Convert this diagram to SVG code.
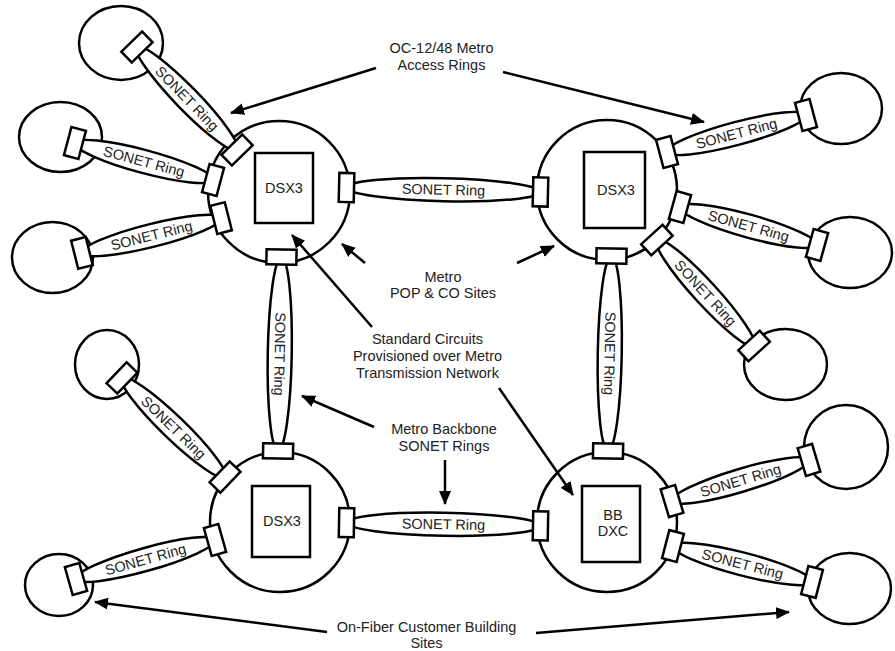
<svg xmlns="http://www.w3.org/2000/svg" width="895" height="651" viewBox="0 0 895 651">
<defs>
<style>
.site{fill:#fff;stroke:#000;stroke-width:2.5}
.box{fill:#fff;stroke:#000;stroke-width:2.5}
.ring ellipse{fill:#fff;stroke:#000;stroke-width:2.5}
.ring rect{fill:#fff;stroke:#000;stroke-width:2.5}
.t{font-family:"Liberation Sans",Arial,sans-serif;font-size:14.5px;fill:#222;text-anchor:middle}
.arr{stroke:#000;stroke-width:2.5;fill:none;marker-end:url(#ah)}
</style>
<marker id="ah" markerUnits="userSpaceOnUse" markerWidth="15" markerHeight="12" refX="13" refY="6" orient="auto">
<path d="M0,0 L14,6 L0,12 z" fill="#000"/>
</marker>
</defs>
<rect width="895" height="651" fill="#fff"/>

<g id="customer-sites">
<ellipse id="c-tl1" class="site" cx="121" cy="43" rx="42" ry="37"/>
<ellipse id="c-tl2" class="site" cx="60.5" cy="137" rx="41.5" ry="35"/>
<ellipse id="c-tl3" class="site" cx="52.5" cy="257.5" rx="40.5" ry="35.5"/>
<ellipse id="c-tr1" class="site" cx="841" cy="108.5" rx="41" ry="35.5"/>
<ellipse id="c-tr2" class="site" cx="850" cy="252.5" rx="42" ry="35.5"/>
<ellipse id="c-tr3" class="site" cx="785.5" cy="364.5" rx="41.5" ry="35.5"/>
<ellipse id="c-bl1" class="site" cx="107" cy="364.5" rx="32" ry="34.5"/>
<ellipse id="c-bl2" class="site" cx="59" cy="585" rx="34" ry="31"/>
<ellipse id="c-br1" class="site" cx="846" cy="447" rx="42" ry="42"/>
<ellipse id="c-br2" class="site" cx="849.5" cy="588.5" rx="41.5" ry="35.5"/>
</g>

<g id="site-tl">
<circle class="site" cx="279" cy="192" r="71"/>
<rect class="box" x="255" y="153" width="58" height="70"/>
<text class="t" x="284" y="193">DSX3</text>
</g>
<g id="site-tr">
<circle class="site" cx="607" cy="190" r="70"/>
<rect class="box" x="584" y="152" width="61" height="76"/>
<text class="t" x="616" y="195">DSX3</text>
</g>
<g id="site-bl">
<circle class="site" cx="280" cy="522" r="70"/>
<rect class="box" x="252" y="486" width="58" height="71"/>
<text class="t" x="282" y="526">DSX3</text>
</g>
<g id="site-br">
<circle class="site" cx="607" cy="522" r="70"/>
<rect class="box" x="582" y="486" width="58" height="76"/>
<text class="t" x="613" y="520">BB</text>
<text class="t" x="613" y="536">DXC</text>
</g>

<g id="connectors">
<g id="rings">
<g class="ring" transform="translate(187,98.5) rotate(45.8)"><ellipse rx="71.8" ry="11.5"/><rect x="-79.3" y="-14.5" width="15" height="29"/><rect x="64.3" y="-14.5" width="15" height="29"/><text class="t" y="5">SONET Ring</text></g>
<g class="ring" transform="translate(144,161.5) rotate(15)"><ellipse rx="71.5" ry="11.5"/><rect x="-79" y="-14.5" width="15" height="29"/><rect x="64" y="-14.5" width="15" height="29"/><text class="t" y="5">SONET Ring</text></g>
<g class="ring" transform="translate(151.5,235.5) rotate(-14.1)"><ellipse rx="71.7" ry="11.5"/><rect x="-79.2" y="-14.5" width="15" height="29"/><rect x="64.2" y="-14.5" width="15" height="29"/><text class="t" y="5">SONET Ring</text></g>
<g class="ring" transform="translate(736.5,133.5) rotate(-14.9)"><ellipse rx="71.9" ry="11.5"/><rect x="-79.4" y="-14.5" width="15" height="29"/><rect x="64.4" y="-14.5" width="15" height="29"/><text class="t" y="5">SONET Ring</text></g>
<g class="ring" transform="translate(748.5,226) rotate(15.5)"><ellipse rx="71.1" ry="11.5"/><rect x="-78.6" y="-14.5" width="15" height="29"/><rect x="63.6" y="-14.5" width="15" height="29"/><text class="t" y="5">SONET Ring</text></g>
<g class="ring" transform="translate(705.5,293) rotate(47.5)"><ellipse rx="71.9" ry="11.5"/><rect x="-79.4" y="-14.5" width="15" height="29"/><rect x="64.4" y="-14.5" width="15" height="29"/><text class="t" y="5">SONET Ring</text></g>
<g class="ring" transform="translate(173.5,427.5) rotate(43.9)"><ellipse rx="71.5" ry="11.5"/><rect x="-79" y="-14.5" width="15" height="29"/><rect x="64" y="-14.5" width="15" height="29"/><text class="t" y="5">SONET Ring</text></g>
<g class="ring" transform="translate(145.5,559.5) rotate(-15.7)"><ellipse rx="72.2" ry="11.5"/><rect x="-79.7" y="-14.5" width="15" height="29"/><rect x="64.7" y="-14.5" width="15" height="29"/><text class="t" y="5">SONET Ring</text></g>
<g class="ring" transform="translate(740.5,480.5) rotate(-16.7)"><ellipse rx="71.5" ry="11.5"/><rect x="-79" y="-14.5" width="15" height="29"/><rect x="64" y="-14.5" width="15" height="29"/><text class="t" y="5">SONET Ring</text></g>
<g class="ring" transform="translate(742.5,564) rotate(14.5)"><ellipse rx="71.8" ry="11.5"/><rect x="-79.3" y="-14.5" width="15" height="29"/><rect x="64.3" y="-14.5" width="15" height="29"/><text class="t" y="5">SONET Ring</text></g>
<g class="ring" transform="translate(443.5,189.75) rotate(1.3)"><ellipse rx="97" ry="11.5"/><rect x="-104.5" y="-14.5" width="15" height="29"/><rect x="89.5" y="-14.5" width="15" height="29"/><text class="t" y="5">SONET Ring</text></g>
<g class="ring" transform="translate(443.5,524.25) rotate(1)"><ellipse rx="97" ry="11.5"/><rect x="-104.5" y="-14.5" width="15" height="29"/><rect x="89.5" y="-14.5" width="15" height="29"/><text class="t" y="5">SONET Ring</text></g>
<g class="ring" transform="translate(279.75,354) rotate(91)"><ellipse rx="97" ry="12"/><rect x="-104.5" y="-15" width="15" height="30"/><rect x="89.5" y="-15" width="15" height="30"/><text class="t" y="5">SONET Ring</text></g>
<g class="ring" transform="translate(609.75,353.5) rotate(91)"><ellipse rx="97.5" ry="12"/><rect x="-105" y="-15" width="15" height="30"/><rect x="90" y="-15" width="15" height="30"/><text class="t" y="5">SONET Ring</text></g>
</g>
<g id="arrows">
<line class="arr" x1="376" y1="68" x2="231" y2="113"/>
<line class="arr" x1="503" y1="72" x2="704" y2="122"/>
<line class="arr" x1="365" y1="263" x2="342" y2="244"/>
<line class="arr" x1="517" y1="263" x2="554" y2="246"/>
<line class="arr" x1="372" y1="327" x2="292" y2="235"/>
<line class="arr" x1="499" y1="388" x2="573" y2="495"/>
<line class="arr" x1="374" y1="427" x2="302" y2="396"/>
<line class="arr" x1="445" y1="460" x2="445" y2="504"/>
<line class="arr" x1="327" y1="632" x2="95" y2="602"/>
<line class="arr" x1="536" y1="633" x2="789" y2="612"/>
</g>
</g>

<g id="labels">
<text class="t" x="441.5" y="53">OC-12/48 Metro</text>
<text class="t" x="441.5" y="70">Access Rings</text>
<text class="t" x="443" y="282">Metro</text>
<text class="t" x="443" y="298">POP &amp; CO Sites</text>
<text class="t" x="427.5" y="344">Standard Circuits</text>
<text class="t" x="427.5" y="361">Provisioned over Metro</text>
<text class="t" x="427.5" y="378">Transmission Network</text>
<text class="t" x="444" y="434">Metro Backbone</text>
<text class="t" x="444" y="451">SONET Rings</text>
<text class="t" x="426.5" y="632">On-Fiber Customer Building</text>
<text class="t" x="426.5" y="648">Sites</text>
</g>
</svg>
